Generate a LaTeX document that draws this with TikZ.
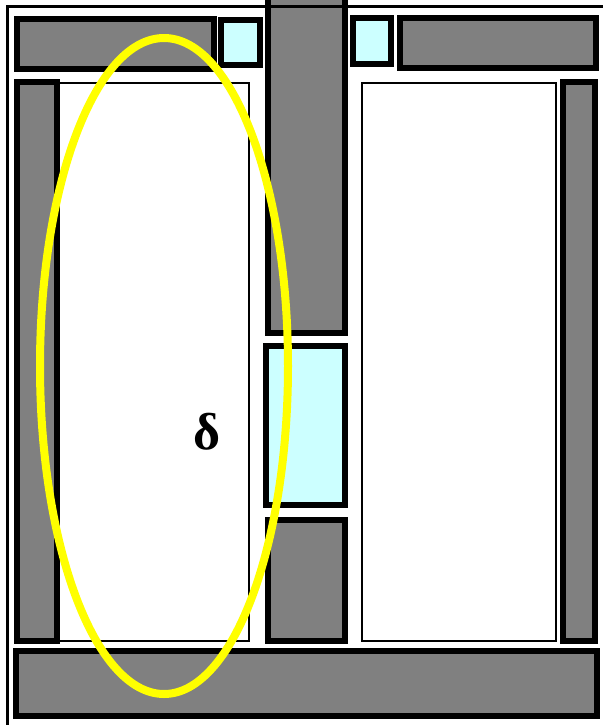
\documentclass[tikz,border=0pt]{standalone}
\usepackage{fontspec}
\setmainfont{Liberation Serif}
\usepackage{xcolor}

\definecolor{wallgray}{RGB}{128,128,128}
\definecolor{glass}{RGB}{204,255,255}
\definecolor{zone}{RGB}{255,255,0}

\begin{document}
\begin{tikzpicture}[x=0.75pt, y=-0.75pt,
    wall/.style={draw=black, line width=4.5pt, fill=wallgray},
    pane/.style={draw=black, line width=4.5pt, fill=glass},
    room/.style={draw=black, line width=1.5pt, fill=white}]
    \useasboundingbox (0,0) rectangle (603,725);
    \clip (0,0) rectangle (603,725);
    \draw[room] (59,83) rectangle (249,641);
    \draw[room] (362,83) rectangle (556,641);
    \draw[wall] (17,19) rectangle (214,69);
    \draw[pane] (221,20) rectangle (260,65);
    \draw[pane] (353,18) rectangle (391,64);
    \draw[wall] (400,18) rectangle (596,68);
    \draw[wall] (268,-10) rectangle (345,333);
    \draw[pane] (266,346) rectangle (345,505);
    \draw[wall] (268,520) rectangle (345,641);
    \draw[wall] (17,82) rectangle (57,641);
    \draw[wall] (563,82) rectangle (595,641);
    \draw[wall] (16,651) rectangle (597,716);
    \draw[line width=2pt] (7.5,6.5) rectangle (640,760);
    \draw[zone, line width=6pt] (164,366) ellipse [x radius=124, y radius=328];
    \node[font=\fontsize{39}{43}\selectfont\bfseries] (delta) at (207,432) {δ};
  \end{tikzpicture}
\end{document}
